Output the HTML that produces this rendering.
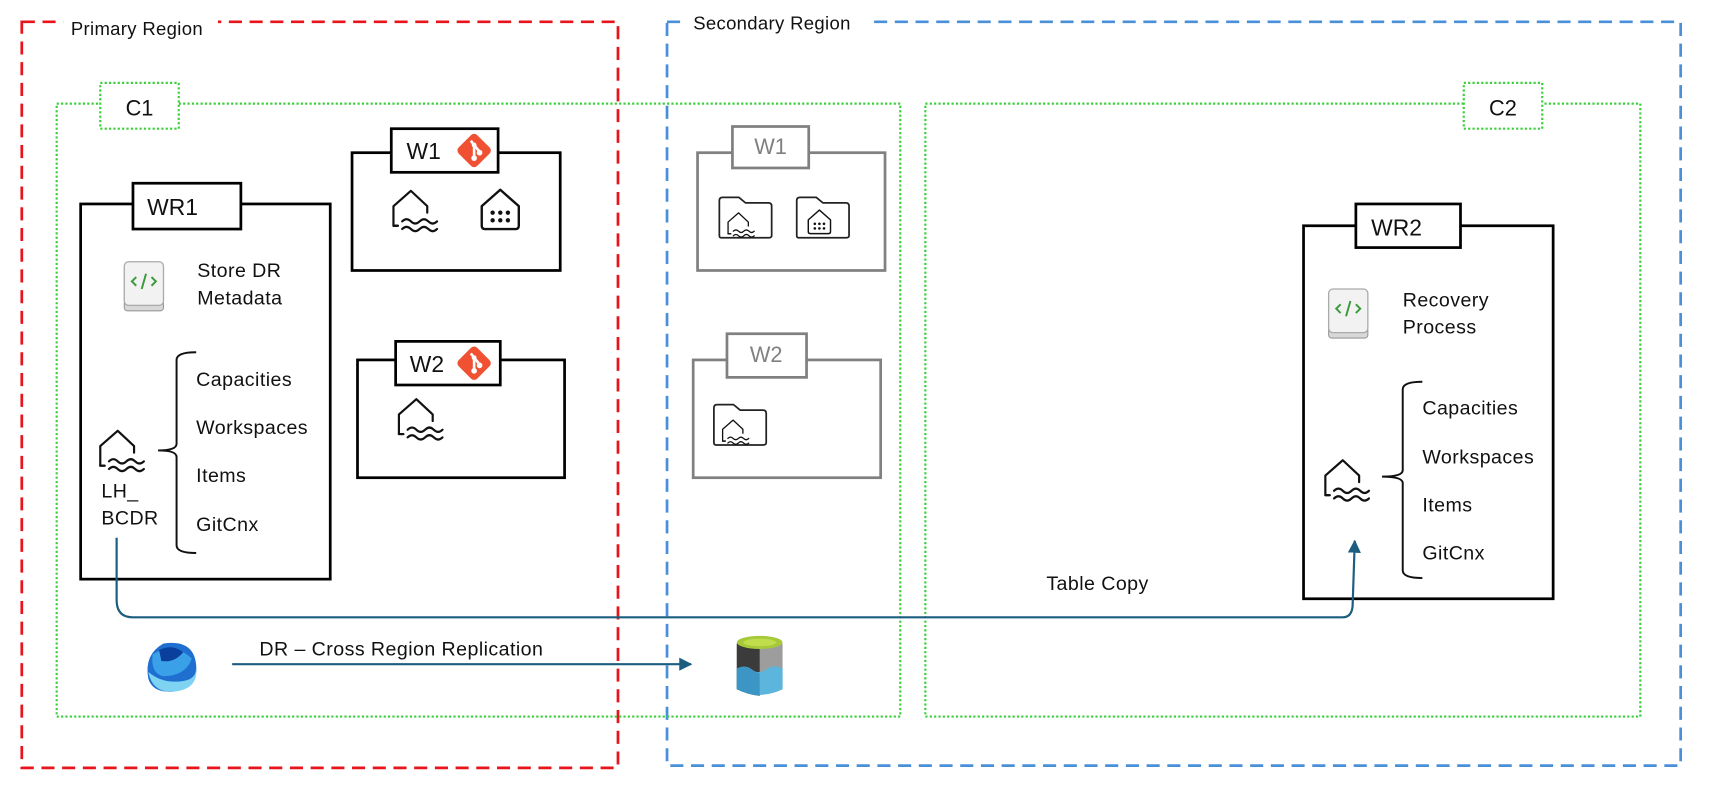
<!DOCTYPE html>
<html><head><meta charset="utf-8"><style>
html,body{margin:0;padding:0;background:#fff;}
svg{display:block;}
text{font-family:"Liberation Sans",Arial,sans-serif;fill:#111;}
.b{font-size:18px;letter-spacing:0.4px;}
</style></head><body>
<svg width="1709" height="794" viewBox="0 0 1568 728" preserveAspectRatio="none" xmlns="http://www.w3.org/2000/svg">
<defs>
<g id="lake" fill="none" stroke="#111" stroke-width="2" stroke-linejoin="round" stroke-linecap="round">
  <path d="M4 34 L0 34 L0 16 L16 2 L31 16 L31 22"/>
  <path d="M8 30 q4 -4 8 0 q4 4 8 0 q4 -4 8 0 q4 4 8 0"/>
  <path d="M8 37 q4 -4 8 0 q4 4 8 0 q4 -4 8 0 q4 4 8 0"/>
  <path d="M0 34 L4 34"/>
</g>
<g id="wh" fill="none" stroke="#111" stroke-width="2.2" stroke-linejoin="round">
  <path d="M1 16 L18 1 L35 16 L35 34 Q35 37 32 37 L4 37 Q1 37 1 34 Z"/>
  <g fill="#111" stroke="none"><circle cx="11" cy="22" r="2"/><circle cx="18" cy="22" r="2"/><circle cx="25" cy="22" r="2"/><circle cx="11" cy="29" r="2"/><circle cx="18" cy="29" r="2"/><circle cx="25" cy="29" r="2"/></g>
</g>
<g id="git">
  <rect x="5" y="5" width="24" height="24" rx="4" fill="#f05133" transform="rotate(45 17 17)"/>
  <g stroke="#fff" stroke-width="2.4" fill="none"><path d="M14 8 L17 12 L17 25"/><path d="M17 12 L22 18"/></g>
  <g fill="#fff"><circle cx="17" cy="24" r="2.6"/><circle cx="22" cy="19" r="2.6"/><circle cx="17" cy="12" r="2.2"/></g>
</g>
<g id="nb">
  <rect x="1" y="36" width="36" height="10" rx="3" fill="#d8d8d8" stroke="#999" stroke-width="1"/>
  <rect x="1" y="1" width="36" height="40" rx="4" fill="#f2f2f2" stroke="#aaa" stroke-width="1.2"/>
  <path d="M12 15 L8 19 L12 23 M26 15 L30 19 L26 23 M21 12 L17 26" stroke="#3a9b3a" stroke-width="1.8" fill="none"/>
</g>
<g id="folder" fill="#fff" stroke="#222" stroke-width="1.6" stroke-linejoin="round">
  <path d="M2 4 Q2 1 5 1 L20 1 L26 6 L47 6 Q50 6 50 9 L50 36 Q50 38 47 38 L4 38 Q2 38 2 36 Z"/>
</g>
<marker id="ah" viewBox="0 0 10 10" refX="9" refY="5" markerWidth="6" markerHeight="6" orient="auto"><path d="M0 0 L10 5 L0 10 Z" fill="#1b5e80"/></marker>
</defs>

<rect x="20" y="20" width="547" height="684" fill="none" stroke="#e8141b" stroke-width="2.5" stroke-dasharray="12 7"/>
<rect x="58" y="12" width="142" height="20" fill="#fff"/>
<text x="65" y="32" font-size="17" letter-spacing="0.3">Primary Region</text>

<rect x="612" y="20" width="930" height="682" fill="none" stroke="#4a90d9" stroke-width="2.5" stroke-dasharray="12 7"/>
<rect x="628" y="10" width="172" height="20" fill="#fff"/>
<text x="636" y="27" font-size="17" letter-spacing="0.3">Secondary Region</text>

<rect x="52" y="95" width="774" height="562" fill="none" stroke="#3ccf3c" stroke-width="2" stroke-dasharray="2 2"/>
<rect x="92" y="76" width="72" height="42" fill="#fff" stroke="#3ccf3c" stroke-width="2" stroke-dasharray="2 2"/>
<text x="128" y="106" font-size="20" text-anchor="middle">C1</text>

<rect x="849" y="95" width="656" height="562" fill="none" stroke="#3ccf3c" stroke-width="2" stroke-dasharray="2 2"/>
<rect x="1343" y="76" width="72" height="42" fill="#fff" stroke="#3ccf3c" stroke-width="2" stroke-dasharray="2 2"/>
<text x="1379" y="106" font-size="20" text-anchor="middle">C2</text>

<rect x="74" y="187" width="229" height="344" fill="none" stroke="#000" stroke-width="2.5"/>
<rect x="122" y="168" width="99" height="42" fill="#fff" stroke="#000" stroke-width="2.5"/>
<text x="135" y="197" font-size="21">WR1</text>
<use href="#nb" x="113" y="239"/>
<text x="181" y="254" class="b">Store DR</text>
<text x="181" y="279" class="b">Metadata</text>
<use href="#lake" x="92" y="393"/>
<text x="93" y="456" class="b">LH_</text>
<text x="93" y="481" class="b">BCDR</text>
<path d="M180 323 Q162 323 162 330 L162 407 Q162 413 145 413 Q162 413 162 419 L162 500 Q162 507 180 507" fill="none" stroke="#111" stroke-width="1.8"/>
<text x="180" y="354" class="b">Capacities</text>
<text x="180" y="398" class="b">Workspaces</text>
<text x="180" y="442" class="b">Items</text>
<text x="180" y="487" class="b">GitCnx</text>

<rect x="323" y="140" width="191" height="108" fill="none" stroke="#000" stroke-width="2.5"/>
<rect x="359" y="118" width="98" height="40" fill="#fff" stroke="#000" stroke-width="2.5"/>
<text x="373" y="146" font-size="21">W1</text>
<use href="#git" x="418" y="121"/>
<use href="#lake" x="361" y="173"/>
<use href="#wh" x="441" y="173"/>

<rect x="328" y="330" width="190" height="108" fill="none" stroke="#000" stroke-width="2.5"/>
<rect x="363" y="313" width="96" height="40" fill="#fff" stroke="#000" stroke-width="2.5"/>
<text x="376" y="341" font-size="21">W2</text>
<use href="#git" x="418" y="316"/>
<use href="#lake" x="366" y="364"/>

<rect x="640" y="140" width="172" height="108" fill="none" stroke="#808080" stroke-width="2.5"/>
<rect x="672" y="116" width="70" height="38" fill="#fff" stroke="#808080" stroke-width="2.5"/>
<text x="707" y="141" font-size="20" text-anchor="middle" style="fill:#808080">W1</text>
<use href="#folder" x="658" y="180"/>
<use href="#lake" x="668" y="194" transform="translate(668 194) scale(0.6) translate(-668 -194)"/>
<use href="#folder" x="729" y="180"/>
<use href="#wh" x="741" y="192" transform="translate(741 192) scale(0.6) translate(-741 -192)"/>

<rect x="636" y="330" width="172" height="108" fill="none" stroke="#808080" stroke-width="2.5"/>
<rect x="667" y="306" width="73" height="40" fill="#fff" stroke="#808080" stroke-width="2.5"/>
<text x="703" y="332" font-size="20" text-anchor="middle" style="fill:#808080">W2</text>
<use href="#folder" x="653" y="370"/>
<use href="#lake" x="663" y="384" transform="translate(663 384) scale(0.6) translate(-663 -384)"/>

<rect x="1196" y="207" width="229" height="342" fill="none" stroke="#000" stroke-width="2.5"/>
<rect x="1244" y="187" width="96" height="40" fill="#fff" stroke="#000" stroke-width="2.5"/>
<text x="1258" y="216" font-size="21">WR2</text>
<use href="#nb" x="1218" y="264"/>
<text x="1287" y="281" class="b">Recovery</text>
<text x="1287" y="306" class="b">Process</text>
<use href="#lake" x="1216" y="420"/>
<path d="M1305 350 Q1287 350 1287 357 L1287 431 Q1287 437 1268 437 Q1287 437 1287 443 L1287 523 Q1287 530 1305 530" fill="none" stroke="#111" stroke-width="1.8"/>
<text x="1305" y="380" class="b">Capacities</text>
<text x="1305" y="425" class="b">Workspaces</text>
<text x="1305" y="469" class="b">Items</text>
<text x="1305" y="513" class="b">GitCnx</text>

<path d="M107 493 L107 550 Q107 566 122 566 L1232 566 Q1240 566 1241 556 L1243 496" fill="none" stroke="#1b5e80" stroke-width="2" marker-end="url(#ah)"/>
<text x="960" y="541" class="b">Table Copy</text>

<line x1="213" y1="609" x2="634" y2="609" stroke="#1b5e80" stroke-width="2" marker-end="url(#ah)"/>
<text x="238" y="601" class="b">DR – Cross Region Replication</text>

<g>
  <path d="M150 590 Q178 586 180 610 Q182 630 160 634 Q140 636 136 622 Q132 600 150 590 Z" fill="#1e6fd0"/>
  <path d="M140 600 Q160 588 176 604 Q170 620 150 620 Q138 618 140 600 Z" fill="#3aa0e8"/>
  <path d="M136 616 Q150 628 170 624 Q180 622 180 612 Q182 632 160 634 Q140 636 136 616 Z" fill="#7fd3f2"/>
  <path d="M146 596 Q158 590 168 598 Q160 608 148 606 Z" fill="#0b3f9e"/>
</g>

<g>
  <path d="M676 590 L676 632 Q697 642 718 632 L718 590 Z" fill="#9d9d9d"/>
  <path d="M676 590 L676 632 Q686 637 697 638 L697 590 Z" fill="#3b3b3b"/>
  <path d="M676 613 Q684 609 690 614 Q696 619 704 613 Q711 609 718 613 L718 632 Q697 642 676 632 Z" fill="#5bb5dc"/>
  <path d="M676 613 Q684 609 690 614 Q694 617 697 617 L697 638 Q686 637 676 632 Z" fill="#3b96c6"/>
  <ellipse cx="697" cy="589" rx="21" ry="6" fill="#a6c93a"/>
  <ellipse cx="697" cy="589" rx="15" ry="3.5" fill="#c0dd4c"/>
</g>
</svg>
</body></html>
